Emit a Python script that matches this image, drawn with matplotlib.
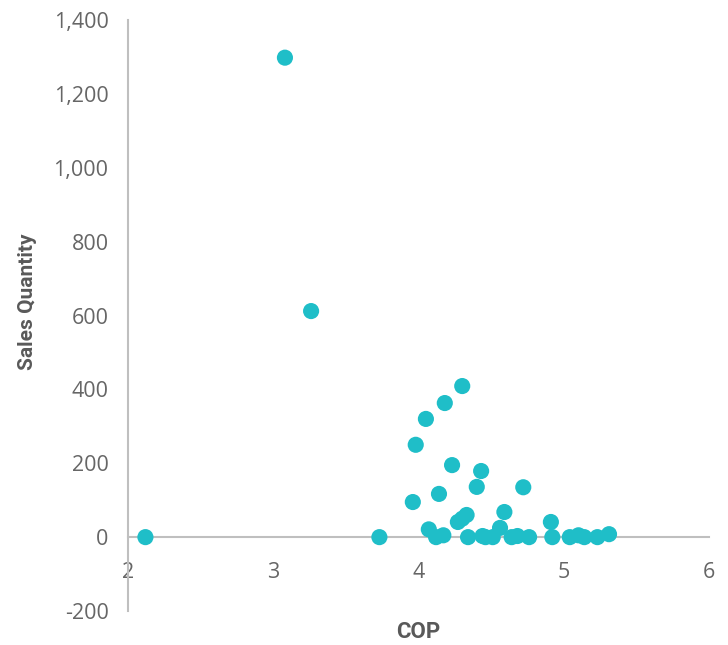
import matplotlib
matplotlib.use("Agg")
import matplotlib.pyplot as plt
from matplotlib.ticker import FuncFormatter

# COP vs sales quantity
cop = [2.12, 3.08, 3.26, 3.73,
       4.30, 4.18, 4.05, 3.98, 4.23, 4.43, 4.40, 4.72, 4.14, 3.96,
       4.59, 4.33, 4.30, 4.27, 4.91, 4.07, 4.56,
       4.12, 4.17, 4.34, 4.44, 4.46, 4.51, 4.64, 4.68, 4.76, 4.92,
       5.04, 5.10, 5.14, 5.23, 5.31]
sales = [0, 1298, 612, 0,
         409, 363, 320, 250, 195, 179, 136, 135, 117, 95,
         68, 60, 50, 41, 41, 21, 25,
         0, 5, 0, 3, 0, 0, 0, 3, 0, 0,
         0, 5, 0, 0, 8]

x_ticks = [2, 3, 4, 5, 6]
y_ticks = [-200, 0, 200, 400, 600, 800, 1000, 1200, 1400]

grey = "#595959"
tick_grey = "#666666"
axis_grey = "#BFBFBF"
dot = "#1FBEC8"

fig = plt.figure(figsize=(7.28, 6.45), dpi=100)
ax = fig.add_axes([0.1758, 0.0527, 0.7985, 0.9163])

ax.scatter(cop, sales, s=135, color=dot, edgecolors="none", zorder=3)

ax.set_xlim(2, 6)
ax.set_ylim(-200, 1400)
ax.set_xticks(x_ticks)
ax.set_yticks(y_ticks)
ax.yaxis.set_major_formatter(FuncFormatter(lambda v, p: f"{int(v):,}"))

for s in ["top", "right"]:
    ax.spines[s].set_visible(False)
ax.spines["bottom"].set_position(("data", 0))
ax.spines["bottom"].set_color(axis_grey)
ax.spines["left"].set_color(axis_grey)
ax.spines["bottom"].set_linewidth(1.5)
ax.spines["left"].set_linewidth(1.5)

ax.tick_params(axis="both", length=0, labelsize=15.5, labelcolor=tick_grey)
ax.tick_params(axis="x", pad=18)
ax.tick_params(axis="y", pad=14)
for lab in ax.get_xticklabels() + ax.get_yticklabels():
    lab.set_fontfamily("Open Sans")

fig.text(0.574, 0.02, "COP", ha="center", va="center", fontsize=16,
         fontweight="bold", color=grey, family="Roboto")
fig.text(0.038, 0.532, "Sales Quantity", ha="center", va="center", rotation=90,
         fontsize=15, fontweight="bold", color=grey, family="Roboto")

fig.savefig("out.png", dpi=100)
